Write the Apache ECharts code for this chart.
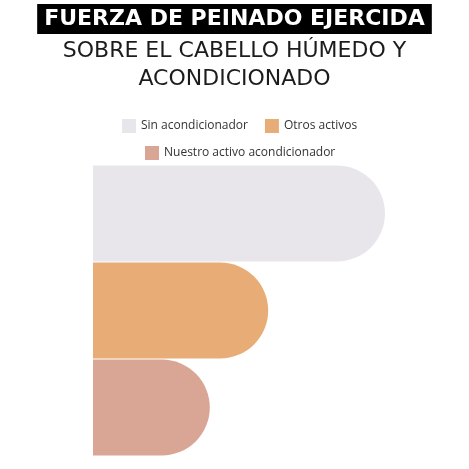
<!DOCTYPE html>
<html>
<head>
<meta charset="utf-8">
<script src="https://cdn.jsdelivr.net/npm/echarts@6/dist/echarts.min.js"></script>
<style>
  html, body { margin: 0; padding: 0; background: #fff; }
  #main { width: 469px; height: 469px; }
</style>
</head>
<body>
<div id="main"></div>
<script>
// datos del grafico
var categorias = ["Sin acondicionador", "Otros activos", "Nuestro activo acondicionador"];
var valores = [100, 60, 40];
var colores = ["#e9e6eb", "#e8ad76", "#d9a595"];

var myChart = echarts.init(document.getElementById("main"));

// una serie por categoria, apiladas para que ocupen toda la banda
var series = categorias.map(function(nombre, i) {
  var data = categorias.map(function(c, j) {
    return j === i ? valores[i] : "-";
  });
  return {
    name: nombre,
    type: "bar",
    stack: "total",
    barWidth: 96,
    itemStyle: {
      color: colores[i],
      borderRadius: [0, 48, 48, 0]
    },
    data: data
  };
});

var legendText = { color: "#333", fontSize: 12, fontFamily: "Open Sans" };
var subStyle = {
  color: "#1c1c1c",
  fontSize: 22,
  lineHeight: 22,
  fontWeight: "normal",
  fontFamily: "DejaVu Sans"
};

var option = {
  animation: false,
  backgroundColor: "#fff",
  title: [
    {
      text: "FUERZA DE PEINADO EJERCIDA",
      left: "center",
      top: 4,
      padding: [4, 7],
      backgroundColor: "#000",
      textStyle: {
        color: "#fff",
        fontSize: 22,
        lineHeight: 22,
        fontWeight: "bold",
        fontFamily: "DejaVu Sans"
      }
    },
    {
      text: "SOBRE EL CABELLO HÚMEDO Y",
      left: "center",
      top: 40,
      padding: 0,
      textStyle: subStyle
    },
    {
      text: "ACONDICIONADO",
      left: "center",
      top: 68,
      padding: 0,
      textStyle: subStyle
    }
  ],
  legend: [
    {
      data: [categorias[0], categorias[1]],
      top: 114,
      left: 117,
      itemWidth: 14,
      itemHeight: 14,
      itemGap: 17,
      icon: "rect",
      textStyle: legendText
    },
    {
      data: [categorias[2]],
      top: 141,
      left: 140,
      itemWidth: 14,
      itemHeight: 14,
      icon: "rect",
      textStyle: legendText
    }
  ],
  grid: {
    left: 93,
    width: 292,
    top: 165,
    bottom: 13
  },
  xAxis: {
    type: "value",
    min: 0,
    max: 100,
    show: false
  },
  yAxis: {
    type: "category",
    data: categorias,
    inverse: true,
    show: false
  },
  series: series
};

myChart.setOption(option);
</script>
</body>
</html>
